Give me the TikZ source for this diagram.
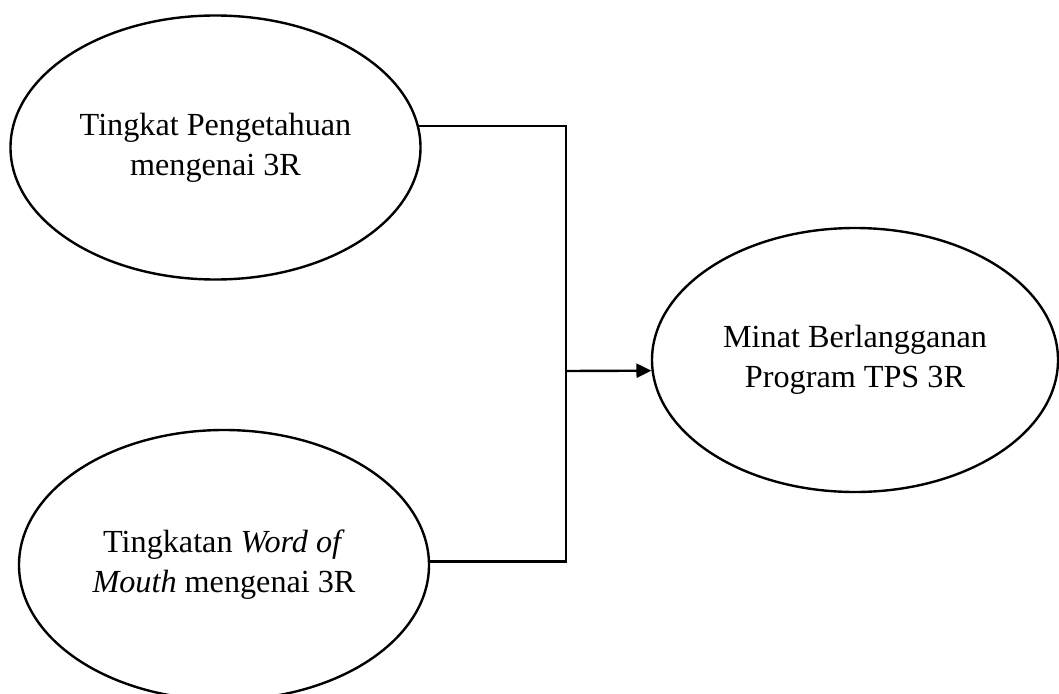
\documentclass[tikz,border=0pt]{standalone}
\usepackage{fontspec}
\setmainfont{Liberation Serif}
\usetikzlibrary{shapes.geometric,arrows.meta}
\tikzset{
  oval/.style={ellipse, draw=black, line width=2.4pt, minimum width=410pt, minimum height=264pt,
    inner sep=0pt, align=center, font=\fontsize{32.2}{40}\selectfont},
  conn/.style={draw=black, line width=2.4pt},
}
\begin{document}
\begin{tikzpicture}[x=1pt,y=-1pt]
\useasboundingbox (0,0) rectangle (1059,693);
\node[oval] (pengetahuan) at (215.5,147.5) {Tingkat Pengetahuan\\mengenai 3R};
\node[oval, minimum height=270pt] (wom) at (224,565) {Tingkatan \textit{Word of}\\\textit{Mouth} mengenai 3R};
\node[oval, minimum width=406pt] (minat) at (855,360) {Minat Berlangganan\\Program TPS 3R};
\coordinate (bus) at (566,371);
\draw[conn] (pengetahuan.6.3) -- (pengetahuan.6.3 -| bus) -- (wom.1 -| bus) -- (wom.1);
\draw[conn, -{Triangle[length=15pt,width=14pt]}] (bus) -- (minat.183.1);
\end{tikzpicture}
\end{document}
